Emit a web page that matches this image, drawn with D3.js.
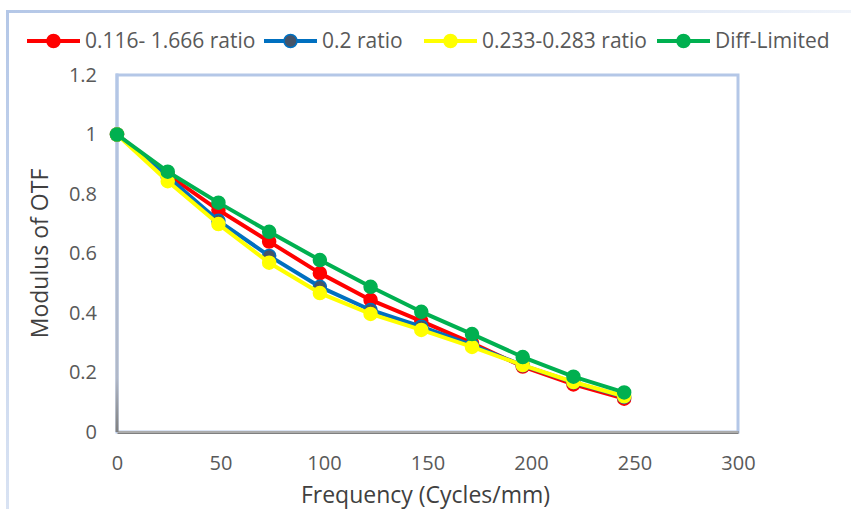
<!DOCTYPE html>
<html>
<head>
<meta charset="utf-8">
<script src="https://cdn.jsdelivr.net/npm/d3@7"></script>
<style>
  body { margin: 0; background: #fff; }
  svg { font-family: "Open Sans", "Noto Sans", sans-serif; }
</style>
</head>
<body>
<svg id="chart"></svg>
<script>
// data
var frequency = [0, 24.5, 49, 73.5, 98, 122.5, 147, 171.5, 196, 220.5, 245];
var ratioA = [1, 0.865, 0.746, 0.640, 0.534, 0.444, 0.373, 0.299, 0.220, 0.160, 0.112];   // 0.116- 1.666 ratio
var ratioB = [1, 0.858, 0.710, 0.592, 0.488, 0.410, 0.354, 0.292, 0.224, 0.167, 0.118];   // 0.2 ratio
var ratioC = [1, 0.843, 0.699, 0.569, 0.467, 0.397, 0.343, 0.286, 0.225, 0.168, 0.120];   // 0.233-0.283 ratio
var diffLimited = [1, 0.875, 0.771, 0.673, 0.578, 0.488, 0.404, 0.329, 0.252, 0.186, 0.133];
var seriesNames = ["0.116- 1.666 ratio", "0.2 ratio", "0.233-0.283 ratio", "Diff-Limited"];
var xTicks = [0, 50, 100, 150, 200, 250, 300];
var yTicks = [0, 0.2, 0.4, 0.6, 0.8, 1, 1.2];

var W = 851, H = 509;
var margin = {top: 75, right: 113, bottom: 77, left: 117};
var width = W - margin.left - margin.right,
    height = H - margin.top - margin.bottom;

var svg = d3.select("#chart").attr("width", W).attr("height", H);

// faded outer chart border (top & left)
var defs = svg.append("defs");
var grad = defs.append("linearGradient").attr("id", "fadeTop")
  .attr("x1", "0").attr("x2", "1").attr("y1", "0").attr("y2", "0");
grad.append("stop").attr("offset", "0").attr("stop-color", "#b4c7e7");
grad.append("stop").attr("offset", "1").attr("stop-color", "#b4c7e7").attr("stop-opacity", 0.2);
var gradL = defs.append("linearGradient").attr("id", "fadeLeft")
  .attr("x1", "0").attr("x2", "0").attr("y1", "0").attr("y2", "1");
gradL.append("stop").attr("offset", "0").attr("stop-color", "#b4c7e7");
gradL.append("stop").attr("offset", "1").attr("stop-color", "#b4c7e7").attr("stop-opacity", 0.5);

svg.append("rect").attr("x", 6).attr("y", 10).attr("width", W).attr("height", 3)
  .attr("fill", "url(#fadeTop)");
svg.append("rect").attr("x", 6).attr("y", 10).attr("width", 3).attr("height", H)
  .attr("fill", "url(#fadeLeft)");

var plot = svg.append("g")
  .attr("transform", "translate(" + margin.left + "," + margin.top + ")");

// scales
var x = d3.scaleLinear().domain([0, 300]).range([0, width]);
var y = d3.scaleLinear().domain([0, 1.2]).range([height, 0]);

// plot area border
plot.append("rect")
  .attr("x", 0).attr("y", 0).attr("width", width).attr("height", height)
  .attr("fill", "none").attr("stroke", "#b4c7e7").attr("stroke-width", 3);

// x axis (double gray line)
var xAxis = plot.append("g")
  .attr("transform", "translate(0," + height + ")")
  .call(d3.axisBottom(x).tickValues(xTicks).tickSize(0).tickPadding(24).tickFormat(d3.format("d")));
xAxis.select(".domain").attr("stroke", "#7f7f7f").attr("stroke-width", 3);
xAxis.append("line").attr("x1", 0).attr("x2", width).attr("y1", 0).attr("y2", 0)
  .attr("stroke", "#d9d9d9").attr("stroke-width", 1);
xAxis.selectAll(".tick text").attr("fill", "#595959").style("font-size", "20px")
  .style("font-family", "'Open Sans', sans-serif");

// y axis
var yAxis = plot.append("g")
  .call(d3.axisLeft(y).tickValues(yTicks).tickSize(0).tickPadding(20).tickFormat(function(d) { return d3.format("")(+d.toFixed(1)); }));
yAxis.select(".domain").remove();
yAxis.selectAll(".tick text").attr("fill", "#595959").style("font-size", "20px")
  .style("font-family", "'Open Sans', sans-serif");

// left axis line: light blue fading to gray near bottom
var gradY = defs.append("linearGradient").attr("id", "leftAxis")
  .attr("x1", "0").attr("x2", "0").attr("y1", "0").attr("y2", "1");
gradY.append("stop").attr("offset", "0").attr("stop-color", "#b4c7e7");
gradY.append("stop").attr("offset", "0.85").attr("stop-color", "#b0b8c8");
gradY.append("stop").attr("offset", "1").attr("stop-color", "#7f7f7f");
plot.append("rect").attr("x", -1.5).attr("y", -1.5).attr("width", 3).attr("height", height + 1.5)
  .attr("fill", "url(#leftAxis)");

// axis titles
svg.append("text")
  .attr("x", margin.left + width / 2 - 2).attr("y", 503)
  .attr("text-anchor", "middle")
  .attr("fill", "#404040")
  .style("font-size", "23px")
  .text("Frequency (Cycles/mm)");

svg.append("text")
  .attr("transform", "translate(48," + (margin.top + height / 2) + ") rotate(-90)")
  .attr("text-anchor", "middle")
  .attr("fill", "#404040")
  .style("font-size", "23px")
  .text("Modulus of OTF");

// series
var series = [
  {name: seriesNames[0], values: ratioA, line: "#ff0000", fill: "#ff0000"},
  {name: seriesNames[1], values: ratioB, line: "#0070c0", fill: "#44546a"},
  {name: seriesNames[2], values: ratioC, line: "#ffff00", fill: "#ffff00"},
  {name: seriesNames[3], values: diffLimited, line: "#00b050", fill: "#00b050"}
];

var line = d3.line()
  .x(function(d, i) { return x(frequency[i]); })
  .y(function(d) { return y(d); });

series.forEach(function(s) {
  var g = plot.append("g");
  g.append("path")
    .datum(s.values)
    .attr("d", line)
    .attr("fill", "none")
    .attr("stroke", s.line)
    .attr("stroke-width", 4)
    .attr("stroke-linejoin", "round");
  g.selectAll("circle")
    .data(s.values)
    .enter().append("circle")
    .attr("cx", function(d, i) { return x(frequency[i]); })
    .attr("cy", function(d) { return y(d); })
    .attr("r", 6.5)
    .attr("fill", s.fill)
    .attr("stroke", s.line)
    .attr("stroke-width", 1.5);
});

// legend
var legendX = [27, 264, 424, 657];
var legend = svg.append("g").attr("transform", "translate(0,41)");
series.forEach(function(s, i) {
  var lg = legend.append("g").attr("transform", "translate(" + legendX[i] + ",0)");
  lg.append("line").attr("x1", 0).attr("x2", 53).attr("y1", 0).attr("y2", 0)
    .attr("stroke", s.line).attr("stroke-width", 4);
  lg.append("circle").attr("cx", 26.5).attr("cy", 0).attr("r", 6.5)
    .attr("fill", s.fill).attr("stroke", s.line).attr("stroke-width", 1.5);
  lg.append("text").attr("x", 58).attr("y", 0).attr("dy", "0.35em")
    .attr("fill", "#595959")
    .style("font-size", "21px")
    .text(s.name);
});
</script>
</body>
</html>
